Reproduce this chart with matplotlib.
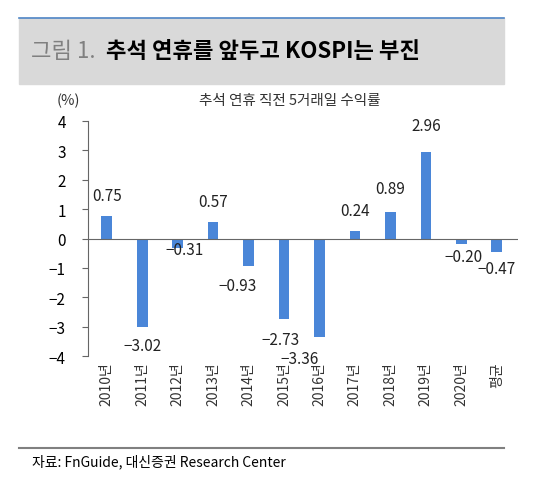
import matplotlib
matplotlib.use("Agg")
import matplotlib.pyplot as plt
from matplotlib.patches import Rectangle
from matplotlib.lines import Line2D

plt.rcParams['font.family'] = ['Noto Sans CJK KR', 'DejaVu Sans']

categories = ['2010년','2011년','2012년','2013년','2014년','2015년','2016년','2017년','2018년','2019년','2020년','평균']
values = [0.75,-3.02,-0.31,0.57,-0.93,-2.73,-3.36,0.24,0.89,2.96,-0.20,-0.47]
labels = ['0.75','−3.02','−0.31','0.57','−0.93','−2.73','−3.36','0.24','0.89','2.96','−0.20','−0.47']
# label offsets (dx, dy) in data units relative to bar end
offsets = [(0,0.7),(0,-0.63),(0.2,-0.05),(0,0.7),(-0.3,-0.67),(-0.1,-0.72),(-0.55,-0.74),(0,0.7),(0,0.8),(0,0.89),(0.05,-0.4),(0,-0.55)]

fig = plt.figure(figsize=(5.59,4.85), dpi=100)
# header
fig.patches.append(Rectangle((19/559, 1-85/485), 485/559, 66/485, transform=fig.transFigure, color='#d9d9d9', zorder=0))
fig.lines.append(Line2D([19/559, 504/559], [1-18.5/485]*2, transform=fig.transFigure, color='#4f86c6', lw=1.2))
fig.text(31/559, 1-52/485, '그림 1.', fontsize=16, color='#808080', va='center')
fig.text(106/559, 1-52/485, '추석 연휴를 앞두고 KOSPI는 부진', fontsize=16, fontweight='bold', color='black', va='center')
fig.text(68/559, 1-101/485, '(%)', fontsize=10.5, color='#333333', ha='center', va='center')
fig.text(290/559, 1-101/485, '추석 연휴 직전 5거래일 수익률', fontsize=10.5, color='#333333', ha='center', va='center')
# footer
fig.lines.append(Line2D([19/559, 504/559], [1-449/485]*2, transform=fig.transFigure, color='#808080', lw=1.5))
fig.text(32/559, 1-462/485, '자료: FnGuide, 대신증권 Research Center', fontsize=10, color='black', va='center')

ax = fig.add_axes([88/559, 1-357/485, 430/559, 235/485])
x = list(range(len(categories)))
ax.bar(x, values, width=0.3, color='#4a86d8', zorder=2)
for xi, v, lab, (dx, dy) in zip(x, values, labels, offsets):
    ax.text(xi+dx, v+dy, lab, ha='center', va='center', fontsize=11, color='#222222')
ax.set_xlim(-0.53, 11.6)
ax.set_ylim(-4, 4)
ax.set_yticks(range(-4,5))
ax.set_yticklabels(['−4','−3','−2','−1','0','1','2','3','4'], fontsize=11)
for s in ['top','right','bottom']:
    ax.spines[s].set_visible(False)
ax.spines['left'].set_color('#666666')
ax.axhline(0, color='#666666', lw=0.8, zorder=3)
ax.tick_params(axis='y', length=4, color='#666666', pad=12)
ax.set_xticks(x)
ax.set_xticklabels(categories, rotation=90, fontsize=10, color='#333333')
ax.tick_params(axis='x', length=0, pad=4)
fig.savefig('out.png', dpi=100)
